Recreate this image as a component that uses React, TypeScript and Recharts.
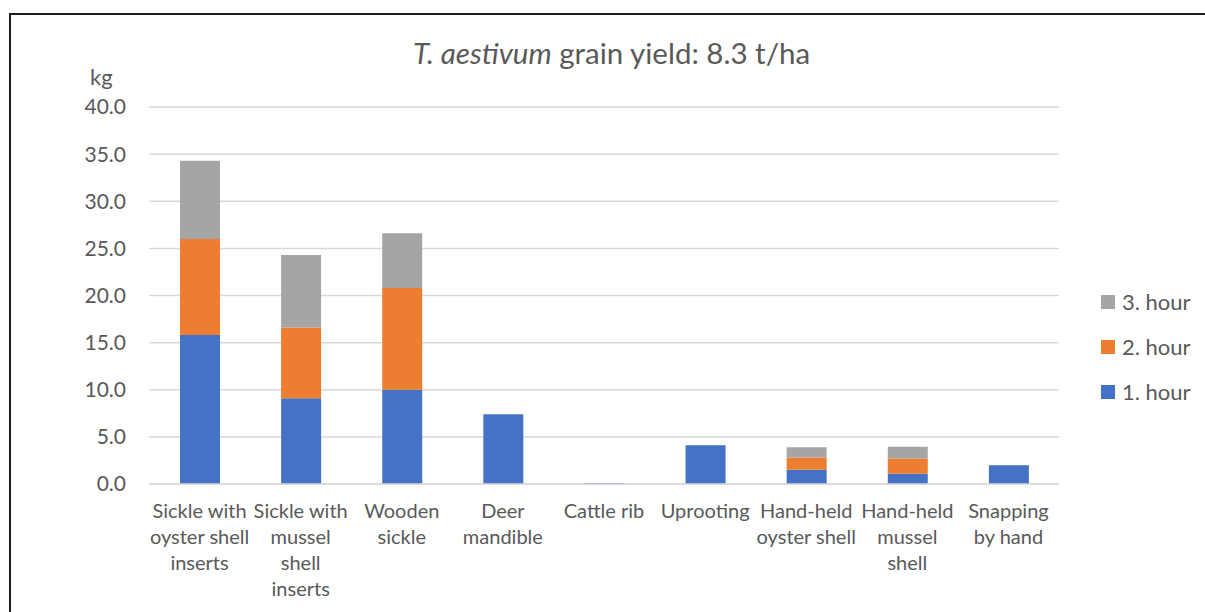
import React from "react";
import { BarChart, Bar, XAxis, YAxis, CartesianGrid } from "recharts";

const categories = [
  "Sickle with\noyster shell\ninserts",
  "Sickle with\nmussel\nshell\ninserts",
  "Wooden\nsickle",
  "Deer\nmandible",
  "Cattle rib",
  "Uprooting",
  "Hand-held\noyster shell",
  "Hand-held\nmussel\nshell",
  "Snapping\nby hand",
];
const hour1 = [15.8, 9.1, 10.0, 7.4, 0.1, 4.1, 1.5, 1.1, 2.0];
const hour2 = [10.2, 7.5, 10.8, 0, 0, 0, 1.3, 1.6, 0];
const hour3 = [8.3, 7.7, 5.8, 0, 0, 0, 1.1, 1.25, 0];
const yTicks = [0, 5, 10, 15, 20, 25, 30, 35, 40];

const series = [
  { key: "h1", name: "1. hour", color: "#4472C4", values: hour1 },
  { key: "h2", name: "2. hour", color: "#ED7D31", values: hour2 },
  { key: "h3", name: "3. hour", color: "#A5A5A5", values: hour3 },
];

const data = categories.map((c, i) => ({
  cat: c,
  h1: hour1[i],
  h2: hour2[i],
  h3: hour3[i],
}));

const FONT = "Lato, 'Noto Sans', sans-serif";
const TXT = "#595959";

const CatTick = (props: any) => {
  const { x, y, payload } = props;
  const lines = String(payload.value).split("\n");
  return (
    <g transform={`translate(${x},${y})`}>
      {lines.map((l: string, i: number) => (
        <text
          key={i}
          x={0}
          y={i * 26}
          textAnchor="middle"
          dominantBaseline="central"
          fill={TXT}
          fontSize={20}
          fontFamily={FONT}
        >
          {l}
        </text>
      ))}
    </g>
  );
};

export default function App() {
  return (
    <div
      style={{
        position: "fixed",
        left: 0,
        top: 0,
        width: 1205,
        height: 612,
        overflow: "hidden",
        background: "#fff",
      }}
    >
      <div
        style={{
          position: "absolute",
          left: 9,
          top: 13,
          width: 1400,
          height: 800,
          border: "2px solid #1a1a1a",
          boxSizing: "border-box",
        }}
      />
      <div
        style={{
          position: "absolute",
          left: 0,
          top: 35,
          width: 1205,
          textAlign: "center",
          fontFamily: FONT,
          fontSize: 29.5,
          color: TXT,
          transform: "translateX(9px)",
        }}
      >
        <i>T. aestivum</i> grain yield: 8.3 t/ha
      </div>
      <div
        style={{
          position: "absolute",
          left: 90,
          top: 63,
          fontFamily: FONT,
          fontSize: 22,
          color: TXT,
        }}
      >
        kg
      </div>
      <div style={{ position: "absolute", left: 0, top: 0 }}>
        <BarChart
          width={1205}
          height={612}
          data={data}
          margin={{ top: 107, right: 146, bottom: 0, left: 0 }}
          barSize={40}
        >
          <CartesianGrid vertical={false} stroke="#d9d9d9" strokeWidth={1.5} />
          <XAxis
            dataKey="cat"
            interval={0}
            tick={<CatTick />}
            tickLine={false}
            axisLine={{ stroke: "#d9d9d9", strokeWidth: 1.5 }}
            tickSize={0}
            tickMargin={26}
            height={128}
          />
          <YAxis
            domain={[0, 40]}
            ticks={yTicks}
            width={149}
            axisLine={false}
            tickLine={false}
            tickSize={0}
            tickMargin={23}
            tickFormatter={(v: number) => v.toFixed(1)}
            tick={{ fill: TXT, fontSize: 21, fontFamily: FONT }}
          />
          {series.map((s) => (
            <Bar
              key={s.key}
              dataKey={s.key}
              name={s.name}
              stackId="a"
              fill={s.color}
              isAnimationActive={false}
            />
          ))}
        </BarChart>
      </div>
      <div
        style={{
          position: "absolute",
          left: 1101,
          top: 279,
          fontFamily: FONT,
          fontSize: 22,
          color: TXT,
        }}
      >
        {[...series].reverse().map((s) => (
          <div
            key={s.key}
            style={{ display: "flex", alignItems: "center", height: 45 }}
          >
            <span
              style={{
                display: "inline-block",
                width: 14,
                height: 14,
                background: s.color,
                marginRight: 7,
              }}
            />
            <span>{s.name}</span>
          </div>
        ))}
      </div>
    </div>
  );
}
